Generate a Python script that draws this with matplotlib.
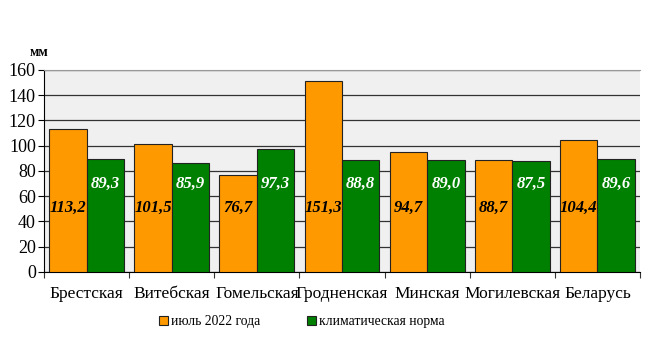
import matplotlib
matplotlib.use("Agg")
import matplotlib.pyplot as plt
import numpy as np

categories = ["Брестская", "Витебская", "Гомельская", "Гродненская", "Минская", "Могилевская", "Беларусь"]
july_2022 = [113.2, 101.5, 76.7, 151.3, 94.7, 88.7, 104.4]
climate_norm = [89.3, 85.9, 97.3, 88.8, 89.0, 87.5, 89.6]
series_names = ["июль 2022 года", "климатическая норма"]
yticks = [0, 20, 40, 60, 80, 100, 120, 140, 160]

plt.rcParams['font.family'] = ['Liberation Serif', 'DejaVu Serif']

fig = plt.figure(figsize=(6.49, 3.55), dpi=100)
ax = fig.add_axes([0.068, 0.234, 0.918, 0.569])
ax.set_facecolor("#f0f0f0")

x = np.arange(len(categories))
w = 0.44
b1 = ax.bar(x - w/2, july_2022, w, color="#ff9900", edgecolor="#222222", linewidth=0.8, zorder=3, label=series_names[0])
b2 = ax.bar(x + w/2, climate_norm, w, color="#008000", edgecolor="#222222", linewidth=0.8, zorder=3, label=series_names[1])

def fmt(v):
    return f"{v:.1f}".replace(".", ",")

for xi, v in zip(x, july_2022):
    ax.text(xi - w/2, 51, fmt(v), ha="center", va="center", fontsize=12, fontweight="bold",
            fontstyle="italic", color="black", zorder=4)
for xi, v in zip(x, climate_norm):
    ax.text(xi + w/2, 70, fmt(v), ha="center", va="center", fontsize=12, fontweight="bold",
            fontstyle="italic", color="white", zorder=4)

ax.set_ylim(0, 160)
ax.set_xlim(-0.5, len(categories) - 0.5)
ax.set_yticks(yticks)
ax.tick_params(axis="y", labelsize=13, length=4, width=0.8, direction="out", pad=2)
ax.yaxis.grid(True, color="#333333", linewidth=0.9, zorder=0)
ax.set_axisbelow(True)

ax.set_xticks(x)
ax.set_xticklabels(categories, fontsize=12.5)
ax.tick_params(axis="x", length=0, pad=10)
ax.set_xticks(np.arange(len(categories) + 1) - 0.5, minor=True)
ax.tick_params(axis="x", which="minor", length=4, width=0.8, color="#333333")

ax.spines["top"].set_color("#999999")
ax.spines["top"].set_linewidth(0.8)
ax.spines["right"].set_visible(False)
ax.spines["left"].set_color("black")
ax.spines["bottom"].set_color("black")

fig.text(0.046, 0.852, "мм", fontsize=10, fontweight="bold", ha="left", va="center")

leg = fig.legend(handles=[b1, b2], labels=series_names, loc="center", bbox_to_anchor=(0.465, 0.093),
                 ncol=2, frameon=False, fontsize=9.8, handlelength=0.7, handleheight=0.7,
                 handletextpad=0.2, columnspacing=3.4)

fig.savefig("out.png", dpi=100)
